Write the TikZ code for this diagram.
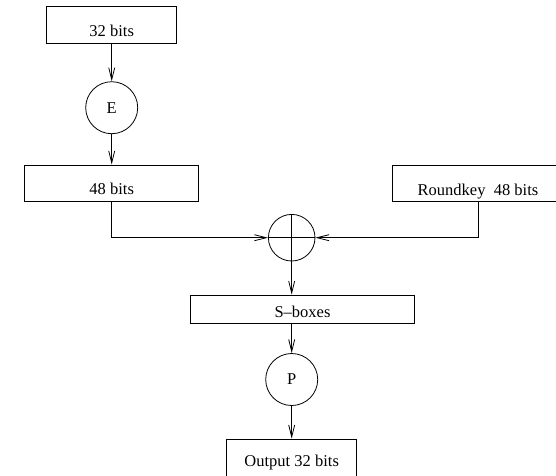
\documentclass[tikz,border=0pt]{standalone}
\usepackage{fontspec}
\setmainfont{Liberation Serif}
\usepackage{tikz}
\tikzstyle{blk} = [draw, rectangle, inner sep=0pt, text depth=0pt]
\tikzstyle{op} = [draw, circle, inner sep=0pt, minimum size=52pt]
\usetikzlibrary{arrows.meta,positioning}

\begin{document}
\begin{tikzpicture}[x=1pt, y=-1pt, line width=0.8pt,
    >={Straight Barb[length=12pt,width=6pt]}]
  \tikzstyle{every node}=[font=\fontsize{16.5}{20}\selectfont]
  \useasboundingbox (0,0) rectangle (556,475);

  \node[blk, minimum width=130pt, minimum height=36.6pt, text height=22pt] (in) at (111.7,25) {32 bits};
  \node[op] (E) [below of=in, node distance=82.7pt] {E};
  \node[blk, minimum width=173.7pt, minimum height=36.7pt, text height=22pt] (exp) [below of=E, node distance=75.6pt] {48 bits};
  \node[blk, minimum width=171pt, minimum height=36.7pt, text height=23.4pt] (key) at (478,183.3) {Roundkey\ \ 48 bits};
  \node[op, minimum size=46.6pt] (xor) at (291.7,237.7) {};
  \node[blk, minimum width=223.3pt, minimum height=28.3pt, text height=16.2pt] (sbox) at (302.5,309.2) {S–boxes};
  \node[op] (P) at (291.7,379.5) {P};
  \node[blk, minimum width=130pt, minimum height=37pt, text height=18.4pt] (out) at (291.7,457.5) {Output 32 bits};

  % the plus inside the xor
  \draw (xor.north) -- (xor.south);
  \draw (xor.west) -- (xor.east);

  \draw[->] (in) -- (E);
  \draw[->] (E) -- (exp);
  \draw[->] (exp.south) |- (xor.west);
  \draw[->] (key.south) |- (xor.east);
  \draw[->] (xor.south) -- (xor.south |- sbox.north);
  \draw[->] (P.north |- sbox.south) -- (P.north);
  \draw[->] (P) -- (out);
\end{tikzpicture}
\end{document}
